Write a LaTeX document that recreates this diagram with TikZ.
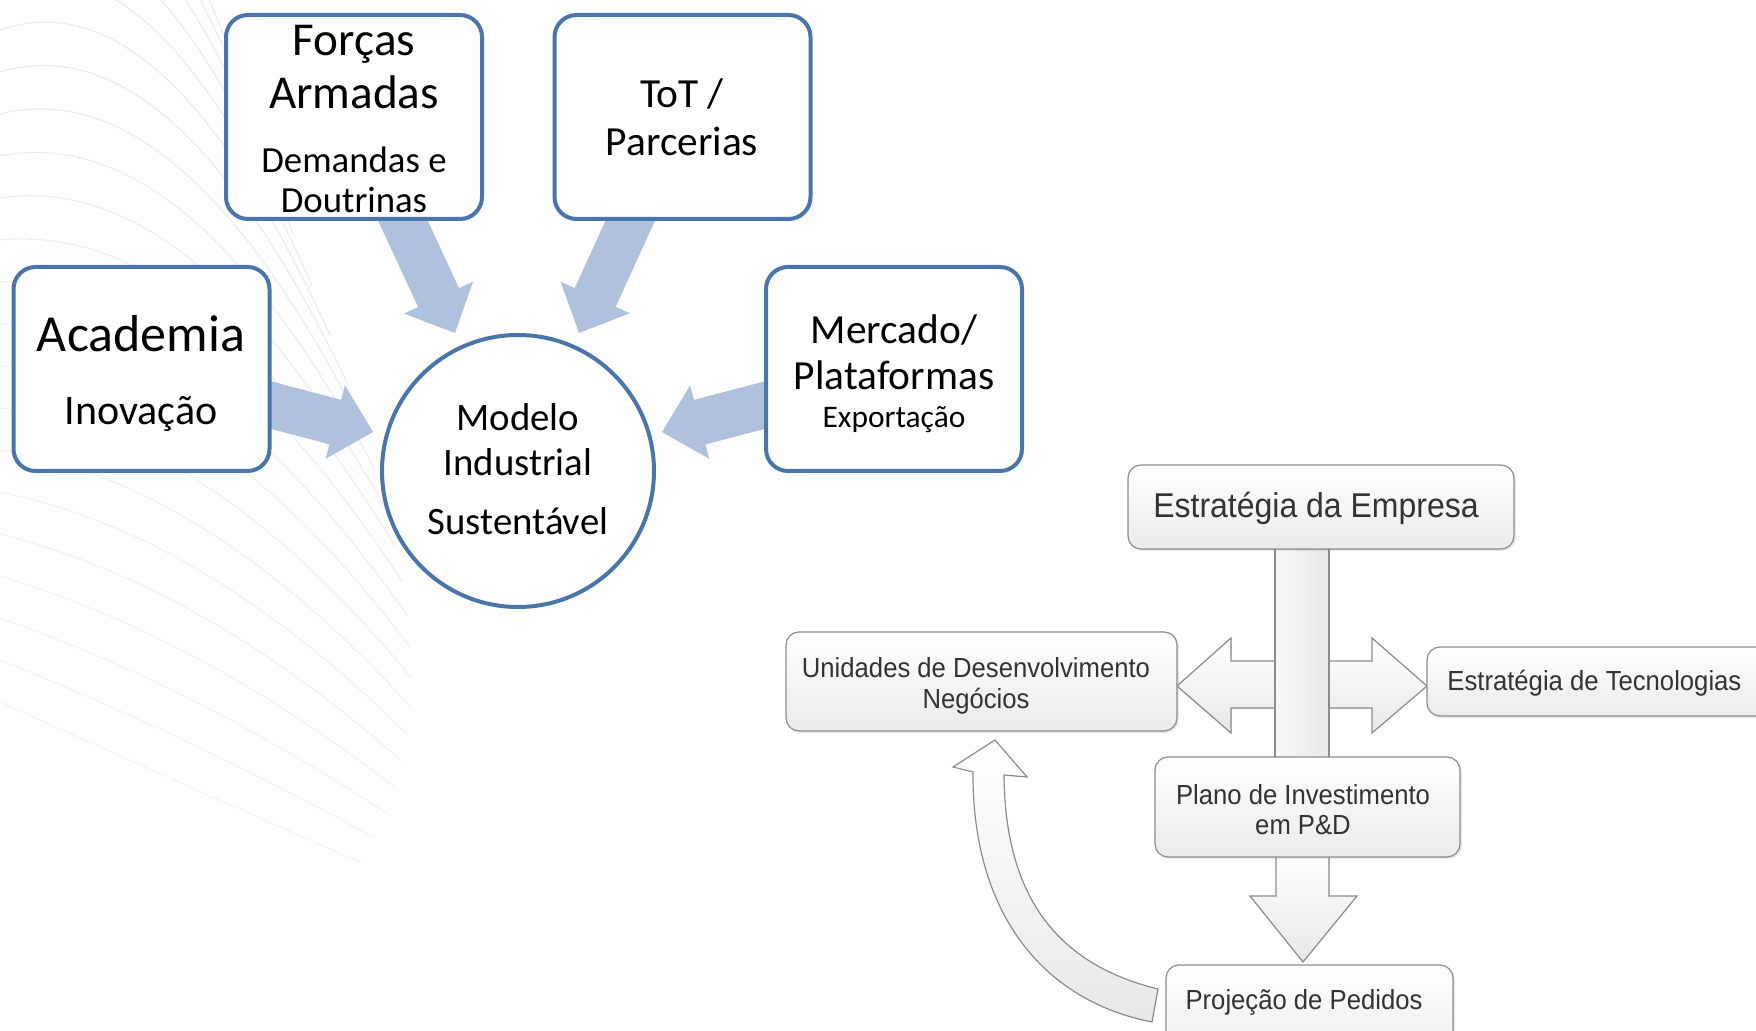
\documentclass[tikz,border=0pt]{standalone}
\usepackage{fontspec}
\setmainfont{Carlito}
\newfontfamily\arialn[FakeStretch=0.93]{Liberation Sans}
\usetikzlibrary{calc,shadows}
\definecolor{boxblue}{HTML}{4A74AC}
\definecolor{arrblue}{HTML}{AFC1DD}
\definecolor{gborder}{HTML}{8C8C8C}
\definecolor{gtext}{HTML}{333333}
\newcommand{\setfs}[1]{\fontsize{#1}{#1}\selectfont}
% block arrow: #1 style, #2 start, #3 tip, #4 shaft half width, #5 head half width, #6 head length
\newcommand{\blockarrow}[6]{%
  \coordinate (ba-base) at ($(#3)!#6!(#2)$);
  \fill[#1] ($(#2)!#4!90:(#3)$) -- ($(ba-base)!#4!90:(#3)$) -- ($(ba-base)!#5!90:(#3)$) -- (#3)
     -- ($(ba-base)!#5!-90:(#3)$) -- ($(ba-base)!#4!-90:(#3)$) -- ($(#2)!#4!-90:(#3)$) -- cycle;}
\begin{document}
\begin{tikzpicture}[x=0.5pt,y=-0.5pt,
  tx/.style={anchor=base,inner sep=0pt,text=black},
  gtx/.style={anchor=base,inner sep=0pt,text=gtext,font=\arialn\setfs{13.8}},
  bluebox/.style={draw=boxblue,line width=2pt,rounded corners=11pt,fill=white,
    minimum width=128pt,minimum height=102pt,inner sep=0pt},
  graybox/.style={draw=gborder,line width=0.6pt,rounded corners=6.5pt,top color=white,
    bottom color=black!8,inner sep=0pt,
    drop shadow={shadow xshift=1pt,shadow yshift=-1pt,opacity=0.18}},
  grayarrow/.style={draw=gborder,line width=0.6pt,top color=white,bottom color=black!9},
  grayshaft/.style={draw=gborder,line width=0.6pt,left color=black!3,right color=black!9},
  bgcurve/.style={line width=0.55pt}]
\useasboundingbox (0,0) rectangle (1756,1031);
\clip (0,0) rectangle (1756,1031);
\fill[white] (0,0) rectangle (1756,1031);

% faint background curves
\foreach \i in {-5,...,16}{
  \pgfmathsetmacro{\yz}{30+42*\i}
  \pgfmathsetmacro{\sa}{-0.35+0.05*\i}
  \pgfmathsetmacro{\sb}{2.2-0.11*\i}
  \pgfmathsetmacro{\cD}{330+18*\i-1.0*max(\i,0)^2}
  \pgfmathsetmacro{\ye}{\yz+\cD*(\sa+\sb)/2}
  \pgfmathsetmacro{\shade}{8-0.25*max(\i,0)}
  \draw[bgcurve,draw=black!\shade] (0,\yz) .. controls ({\cD/3},{\yz+\sa*\cD/3}) and ({2*\cD/3},{\ye-\sb*\cD/3}) .. (\cD,\ye);
}

% blue block arrows
\coordinate (fa-s) at (391,195); \coordinate (fa-t) at (455,333);
\coordinate (ta-s) at (642,195); \coordinate (ta-t) at (579,333);
\coordinate (aa-s) at (244,398); \coordinate (aa-t) at (373,432);
\coordinate (ma-s) at (792,398); \coordinate (ma-t) at (662,432);
\blockarrow{arrblue}{fa-s}{fa-t}{11.25pt}{19pt}{19.5pt}
\blockarrow{arrblue}{ta-s}{ta-t}{11.25pt}{19pt}{19.5pt}
\blockarrow{arrblue}{aa-s}{aa-t}{11.5pt}{19pt}{19.5pt}
\blockarrow{arrblue}{ma-s}{ma-t}{11.5pt}{19pt}{19.5pt}

% top boxes
\node[bluebox] (forcas) at (354,117) {};
\node[bluebox] (tot) at (682.5,117) {};
\node[bluebox] (academia) at (141.5,369) {};
\node[bluebox] (mercado) at (894,369) {};
\node[draw=boxblue,line width=2pt,circle,fill=white,minimum size=136pt,inner sep=0pt] (modelo) at (518,471) {};

\node[tx,font=\setfs{23.6}] (forcas-1) at (354,56) {Forças};
\node[tx,font=\setfs{23.6}] (forcas-2) at (354,109) {Armadas};
\node[tx,font=\setfs{18.4}] (forcas-3) at (354,173) {Demandas e};
\node[tx,font=\setfs{18.4}] (forcas-4) at (354,213) {Doutrinas};
\node[tx,font=\setfs{20.7}] (tot-1) at (682,108) {ToT /};
\node[tx,font=\setfs{20.7}] (tot-2) at (682,156) {Parcerias};
\node[tx,font=\setfs{26}] (acad-1) at (141,352) {Academia};
\node[tx,font=\setfs{21}] (acad-2) at (141,425) {Inovação};
\node[tx,font=\setfs{20.7}] (merc-1) at (894,344) {Mercado/};
\node[tx,font=\setfs{20.7}] (merc-2) at (894,390) {Plataformas};
\node[tx,font=\setfs{15.7}] (merc-3) at (894,428) {Exportação};
\node[tx,font=\setfs{19.4}] (mod-1) at (518,431) {Modelo};
\node[tx,font=\setfs{19.4}] (mod-2) at (518,476) {Industrial};
\node[tx,font=\setfs{19.4}] (mod-3) at (518,535) {Sustentável};

% gray block arrows
\filldraw[grayarrow] (1302,661) -- (1231,661) -- (1231,638) -- (1177,686) -- (1231,733) -- (1231,708) -- (1302,708) -- cycle;
\filldraw[grayarrow] (1302,661) -- (1372,661) -- (1372,638) -- (1427,686) -- (1372,733) -- (1372,708) -- (1302,708) -- cycle;
\filldraw[grayshaft] (1275,540) rectangle (1329,765);
\filldraw[grayarrow] (1276,850) -- (1276,896) -- (1250,896) -- (1303,962) -- (1357,896) -- (1329,896) -- (1329,850) -- cycle;
\filldraw[grayarrow] (1152,1022) .. controls (1040,1000) and (972,910) .. (973,772) -- (953,767) -- (995,740) -- (1027,777) -- (1004,775) .. controls (1005,900) and (1060,965) .. (1158,989) -- cycle;

% gray boxes
\node[graybox,minimum width=193pt,minimum height=42pt] (empresa) at (1321,507) {};
\node[gtx,font=\arialn\setfs{17.2}] (empresa-t) at (1316,518) {Estratégia da Empresa};
\node[graybox,minimum width=195.5pt,minimum height=49.5pt] (unidades) at (981.5,681.5) {};
\node[gtx] (unidades-1) at (976,677) {Unidades de Desenvolvimento};
\node[gtx] (unidades-2) at (976,708) {Negócios};
\node[graybox,minimum width=186.5pt,minimum height=34.5pt] (tecno) at (1613.5,681.5) {};
\node[gtx,anchor=base west] (tecno-t) at (1447,690) {Estratégia de Tecnologias};
\node[graybox,minimum width=152.5pt,minimum height=50pt] (plano) at (1307.5,807) {};
\node[gtx] (plano-1) at (1303,804) {Plano de Investimento};
\node[gtx] (plano-2) at (1303,834) {em P\&D};
\node[graybox,minimum width=143.5pt,minimum height=52.5pt] (projecao) at (1309.5,1017.5) {};
\node[gtx] (projecao-t) at (1304,1009) {Projeção de Pedidos};
\end{tikzpicture}
\end{document}
